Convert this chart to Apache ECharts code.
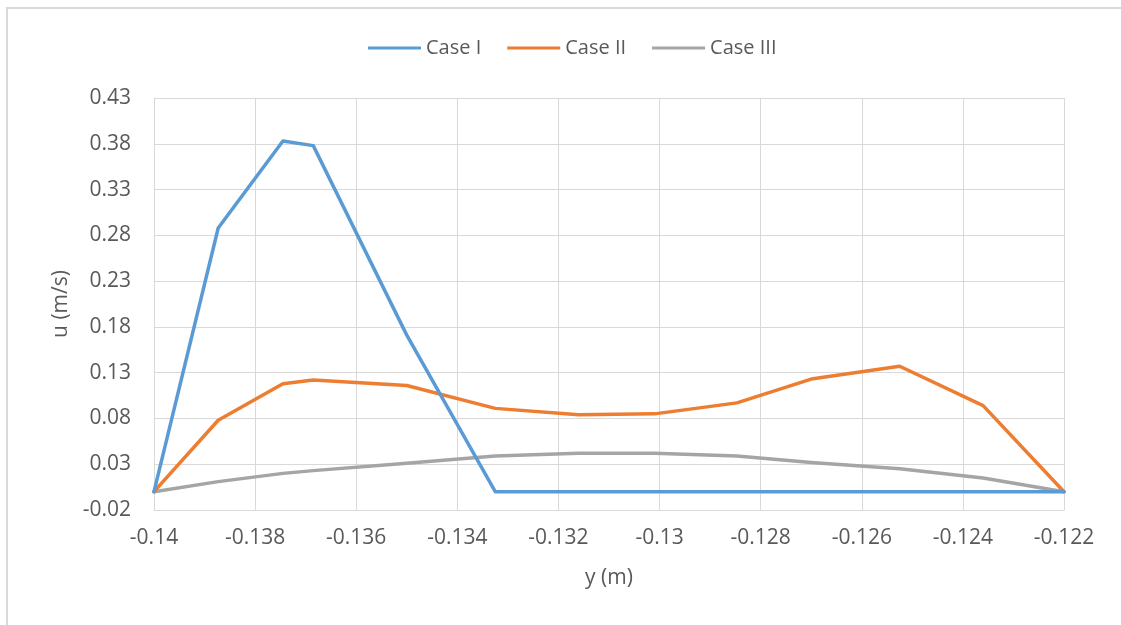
<!DOCTYPE html>
<html>
<head>
<meta charset="utf-8">
<script src="https://cdn.jsdelivr.net/npm/echarts@6/dist/echarts.min.js"></script>
<style>
html,body{margin:0;padding:0;background:#fff;}
#chart{width:1121px;height:625px;}
</style>
</head>
<body>
<div id="chart"></div>
<script>
const xValues = [-0.14, -0.13873, -0.13745, -0.13685, -0.135, -0.13325, -0.1316, -0.1301, -0.12847, -0.127, -0.12525, -0.1236, -0.122];
const caseI   = [0, 0.288, 0.383, 0.378, 0.171, 0, 0, 0, 0, 0, 0, 0, 0];
const caseII  = [0, 0.078, 0.118, 0.122, 0.116, 0.091, 0.084, 0.085, 0.097, 0.123, 0.137, 0.094, 0];
const caseIII = [0, 0.011, 0.020, 0.023, 0.031, 0.039, 0.042, 0.042, 0.039, 0.032, 0.025, 0.015, 0];
const seriesNames = ['Case I', 'Case II', 'Case III'];
const seriesColors = ['#5B9BD5', '#ED7D31', '#A5A5A5'];

const font = 'Open Sans';
const textColor = '#595959';
const gridColor = '#D9D9D9';

function pairs(ys) { return xValues.map((x, i) => [x, ys[i]]); }
const allSeries = [caseI, caseII, caseIII];

const chart = echarts.init(document.getElementById('chart'), null, {renderer: 'canvas'});
chart.setOption({
  animation: false,
  backgroundColor: '#fff',
  textStyle: {fontFamily: font, color: textColor},
  graphic: [
    {type: 'line', shape: {x1: 7, y1: 8, x2: 7, y2: 625}, style: {stroke: gridColor, lineWidth: 2}, silent: true},
    {type: 'line', shape: {x1: 6, y1: 8, x2: 1121, y2: 8}, style: {stroke: gridColor, lineWidth: 2}, silent: true}
  ],
  legend: {
    top: 33,
    left: 363,
    itemWidth: 53,
    itemHeight: 3,
    itemGap: 26,
    icon: 'rect',
    textStyle: {fontFamily: font, fontSize: 20, color: textColor},
    data: seriesNames
  },
  grid: {left: 154, right: 57, top: 98, bottom: 115, containLabel: false, outerBoundsMode: 'none'},
  xAxis: {
    type: 'value',
    min: -0.14, max: -0.122, interval: 0.002,
    name: 'y (m)',
    nameLocation: 'middle',
    nameGap: 58,
    nameTextStyle: {fontFamily: font, fontSize: 21, color: textColor},
    axisLine: {show: true, onZero: false, lineStyle: {color: gridColor, width: 1}},
    axisTick: {show: false},
    axisLabel: {fontFamily: font, fontSize: 21, color: textColor, margin: 18},
    splitLine: {show: true, lineStyle: {color: gridColor, width: 1}}
  },
  yAxis: {
    type: 'value',
    min: -0.02, max: 0.43, interval: 0.05,
    name: 'u (m/s)',
    nameLocation: 'middle',
    nameRotate: 90,
    nameGap: 82,
    nameTextStyle: {fontFamily: font, fontSize: 21, color: textColor},
    axisLine: {show: true, onZero: false, lineStyle: {color: gridColor, width: 1}},
    axisTick: {show: false},
    axisLabel: {fontFamily: font, fontSize: 21, color: textColor, margin: 23},
    splitLine: {show: true, lineStyle: {color: gridColor, width: 1}}
  },
  series: allSeries.map((ys, i) => ({
    name: seriesNames[i],
    type: 'line',
    data: pairs(ys),
    showSymbol: false,
    symbol: 'none',
    color: seriesColors[i],
    lineStyle: {color: seriesColors[i], width: 3.5, cap: 'round', join: 'round'},
    z: 3 - i
  }))
});
</script>
</body>
</html>
